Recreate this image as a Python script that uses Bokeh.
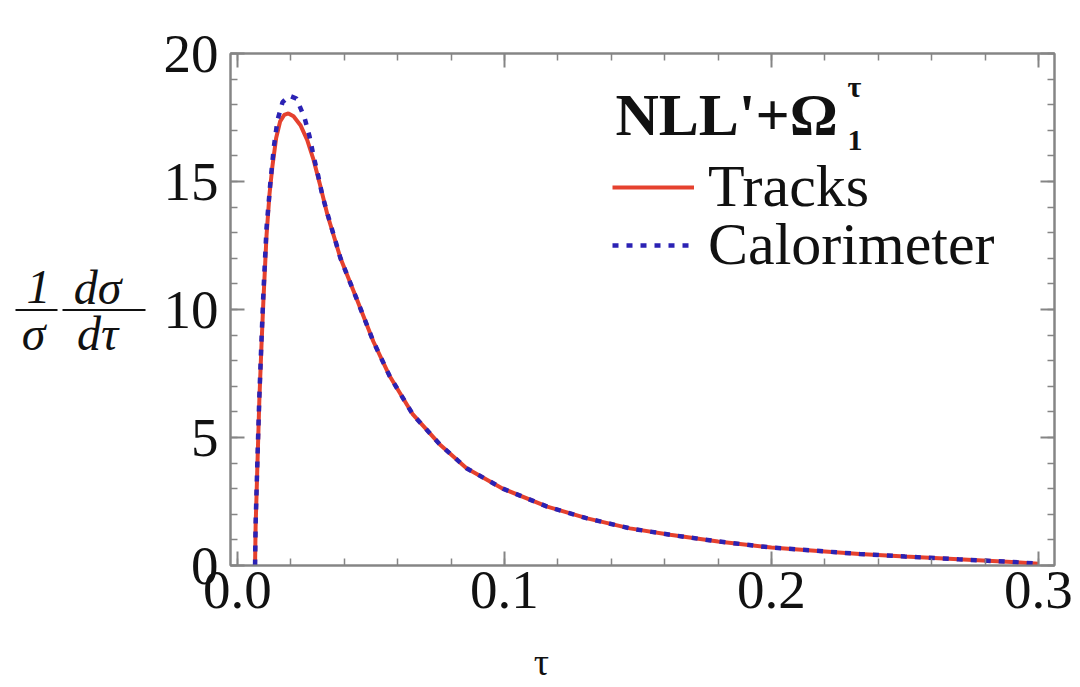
from bokeh.plotting import figure
from bokeh.models import (LinearAxis, SingleIntervalTicker, Label, Legend, LegendItem,
                          Range1d)
from bokeh.layouts import row, column
from bokeh.core.properties import value
from bokeh.embed import file_html
from bokeh.resources import INLINE

# ---- data ----
tau_tracks = [0.0066, 0.0068, 0.0075, 0.0082, 0.0090, 0.0097, 0.0109, 0.0120, 0.0131,
              0.0145, 0.0160, 0.0175, 0.0191, 0.0210, 0.0236, 0.0262, 0.0285, 0.0311,
              0.0337, 0.0386, 0.0449, 0.0509, 0.0570, 0.0657, 0.0758, 0.0858, 0.0994,
              0.116, 0.131, 0.147, 0.162, 0.180, 0.200, 0.220, 0.233, 0.250, 0.270,
              0.290, 0.300]
tracks = [0.0, 1.5, 4.0, 6.45, 8.6, 10.3, 12.9, 14.5, 15.6,
          16.7, 17.35, 17.6, 17.66, 17.55, 17.2, 16.6, 15.85, 14.8,
          13.7, 12.0, 10.35, 8.75, 7.4, 5.9, 4.73, 3.8, 3.0,
          2.3, 1.84, 1.45, 1.2, 0.94, 0.70, 0.55, 0.45, 0.35, 0.24,
          0.14, 0.07]

tau_cal = [0.0066, 0.0068, 0.0075, 0.0082, 0.0090, 0.0097, 0.0109, 0.0124, 0.0137,
           0.0150, 0.0169, 0.0195, 0.0221, 0.0251, 0.0270, 0.0285, 0.0303, 0.0318,
           0.0337, 0.0386, 0.0449, 0.0509, 0.0570, 0.0657, 0.0758, 0.0858, 0.0994,
           0.116, 0.131, 0.147, 0.162, 0.180, 0.200, 0.220, 0.233, 0.250, 0.270,
           0.290, 0.300]
calorimeter = [0.0, 1.6, 4.2, 6.6, 8.8, 10.6, 13.2, 15.04, 16.4,
               17.4, 18.1, 18.35, 18.24, 17.5, 16.76, 16.0, 15.2, 14.45,
               13.75, 12.0, 10.35, 8.75, 7.4, 5.9, 4.73, 3.8, 3.0,
               2.3, 1.84, 1.45, 1.2, 0.94, 0.70, 0.55, 0.45, 0.35, 0.24,
               0.14, 0.07]

series_labels = ["Tracks", "Calorimeter"]
title_text = "NLL'+\u03a9"
title_sup = "\u03c4"
title_sub = "1"
x_label = "\u03c4"
y_label_num = ["1", "d\u03c3"]
y_label_den = ["\u03c3", "d\u03c4"]

FONT = "Liberation Serif"
FRAME = "#858585"
RED = "#e5412e"
BLUE = "#2b22b4"
INK = "#111111"

# ---------------- main plot ----------------
p = figure(width=930, height=637, output_backend="svg", toolbar_location=None,
           x_range=Range1d(-0.0026, 0.306), y_range=Range1d(0, 20),
           x_axis_type=None, y_axis_type=None,
           min_border_left=80, min_border_right=26, min_border_top=53,
           min_border_bottom=72)
p.outline_line_color = FRAME
p.outline_line_width = 2
p.background_fill_color = "white"
p.border_fill_color = "white"


def make_axis(ticker, show_labels):
    ax = LinearAxis(ticker=ticker)
    ax.axis_line_color = FRAME
    ax.axis_line_width = 2
    ax.major_tick_in = 14
    ax.major_tick_out = 0
    ax.minor_tick_in = 7
    ax.minor_tick_out = 0
    ax.major_tick_line_color = FRAME
    ax.major_tick_line_width = 2
    ax.minor_tick_line_color = FRAME
    ax.minor_tick_line_width = 1.5
    if show_labels:
        ax.major_label_text_font = FONT
        ax.major_label_text_font_size = "55px"
        ax.major_label_text_color = INK
    else:
        ax.major_label_text_font_size = "0px"
        ax.major_label_standoff = 0
    return ax


xb = make_axis(SingleIntervalTicker(interval=0.1, num_minor_ticks=5), True)
xb.major_label_standoff = 6
xb.major_label_overrides = {0: "0.0"}
p.add_layout(xb, "below")
yl = make_axis(SingleIntervalTicker(interval=5, num_minor_ticks=5), True)
yl.major_label_standoff = 12
p.add_layout(yl, "left")
p.add_layout(make_axis(SingleIntervalTicker(interval=0.1, num_minor_ticks=5), False), "above")
p.add_layout(make_axis(SingleIntervalTicker(interval=5, num_minor_ticks=5), False), "right")

r1 = p.line(tau_tracks, tracks, line_color=RED, line_width=4)
r2 = p.line(tau_cal, calorimeter, line_color=BLUE, line_width=4.5, line_dash="6 8")


def make_legend(label, renderer, loc):
    return Legend(items=[LegendItem(label=label, renderers=[renderer])],
                  location=loc, border_line_color=None, background_fill_alpha=0,
                  label_text_font=FONT, label_text_font_size="60px",
                  label_text_color=INK,
                  glyph_width=82, glyph_height=20, label_standoff=14,
                  padding=0, margin=0)


p.add_layout(make_legend(series_labels[0], r1, (382, 344)))
p.add_layout(make_legend(series_labels[1], r2, (382, 286)))

# title inside plot
p.add_layout(Label(x=385, y=451, x_units="screen", y_units="screen", text=title_text,
                   text_font=FONT, text_font_style="bold", text_font_size="60px",
                   text_color=INK, text_baseline="alphabetic"))
p.add_layout(Label(x=617, y=479, x_units="screen", y_units="screen", text=title_sup,
                   text_font=FONT, text_font_style="bold", text_font_size="30px",
                   text_color=INK, text_baseline="alphabetic"))
p.add_layout(Label(x=617, y=425, x_units="screen", y_units="screen", text=title_sub,
                   text_font=FONT, text_font_style="bold", text_font_size="30px",
                   text_color=INK, text_baseline="alphabetic"))

# ---------------- left strip: y-axis label as a fraction ----------------
lf = figure(width=150, height=637, output_backend="svg", toolbar_location=None,
            x_range=Range1d(0, 150), y_range=Range1d(637, 0),
            x_axis_type=None, y_axis_type=None, min_border=0)
lf.outline_line_color = None
lf.text(x=[38, 97], y=[291, 291], text=y_label_num, text_font=value(FONT),
        text_font_style="italic", text_font_size="48px", text_color=INK,
        text_align="center", text_baseline="alphabetic")
lf.text(x=[33, 97], y=[348, 348], text=y_label_den, text_font=value(FONT),
        text_font_style="italic", text_font_size="48px", text_color=INK,
        text_align="center", text_baseline="alphabetic")
lf.segment(x0=[15, 62], y0=[319, 319], x1=[57, 145], y1=[319, 319],
           line_color=INK, line_width=2)

# ---------------- bottom strip: x-axis label ----------------
bf = figure(width=1080, height=50, output_backend="svg", toolbar_location=None,
            x_range=Range1d(0, 1080), y_range=Range1d(687, 637),
            x_axis_type=None, y_axis_type=None, min_border=0)
bf.outline_line_color = None
bf.text(x=[541], y=[661], text=[x_label], text_font=value(FONT),
        text_font_size="38px", text_color=INK, text_align="center",
        text_baseline="middle")

layout = column(row(lf, p, spacing=0), bf, spacing=0)
open("out.html", "w").write(file_html(layout, INLINE))
